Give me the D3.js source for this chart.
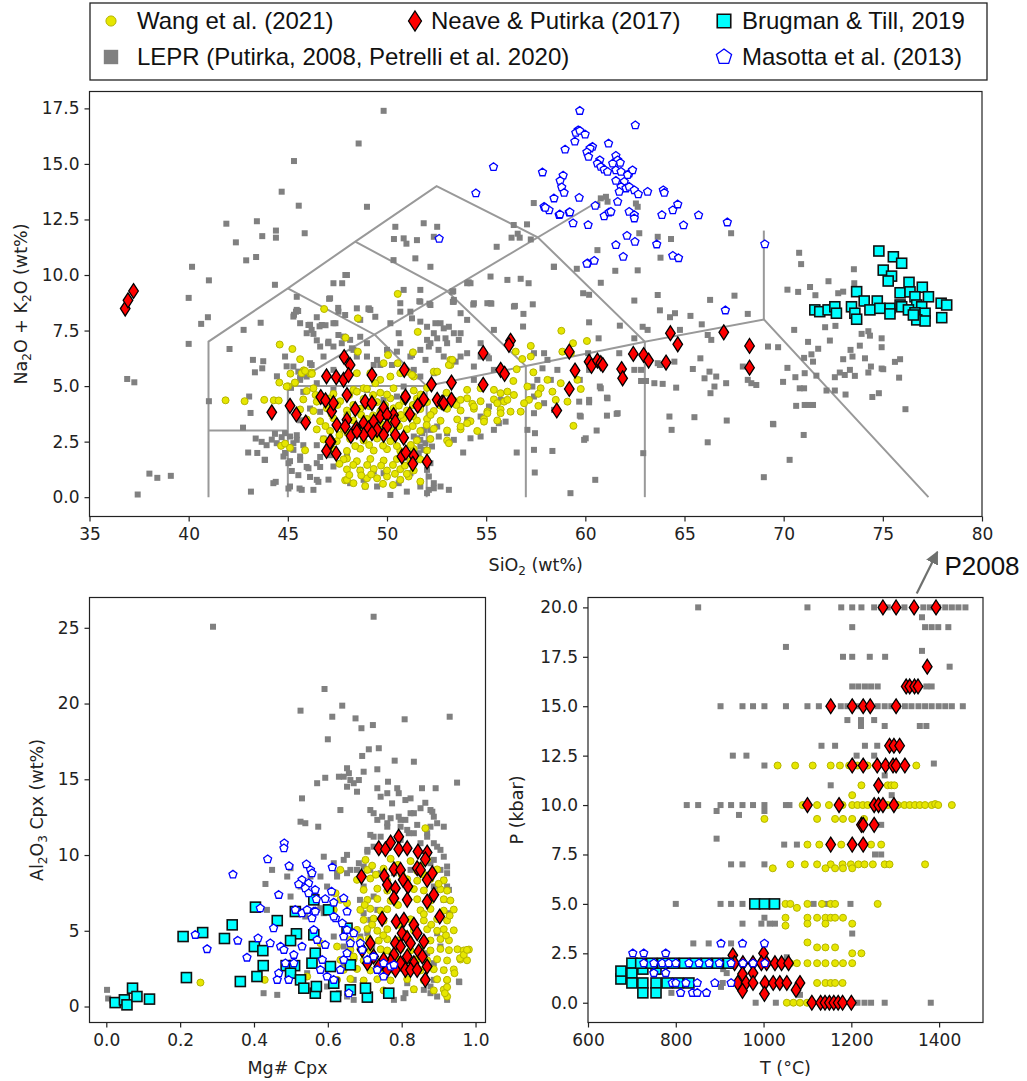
<!DOCTYPE html>
<html><head><meta charset="utf-8">
<script src="https://cdn.jsdelivr.net/npm/d3@7"></script>
<style>body{margin:0;background:#fff}svg{display:block}</style>
</head><body><svg id="c" width="1027" height="1081"></svg>
<script>
// ---------------- DATA ----------------
const legendLabels = ["Wang et al. (2021)","Neave & Putirka (2017)","Brugman & Till, 2019","LEPR (Putirka, 2008, Petrelli et al. 2020)","Masotta et al. (2013)"];
const tasXTicks = [35,40,45,50,55,60,65,70,75,80];
const tasYTicks = [0,2.5,5,7.5,10,12.5,15,17.5];
const blXTicks = [0,0.2,0.4,0.6,0.8,1.0];
const blYTicks = [0,5,10,15,20,25];
const brXTicks = [600,800,1000,1200,1400];
const brYTicks = [0,2.5,5,7.5,10,12.5,15,17.5,20];

// TAS classification boundaries (SiO2, Na2O+K2O)
const tasLines = [
 [[41,0],[41,7],[45,9.4],[48.4,11.5],[52.5,14],[57.6,11.7],[63,7],[69,8],[77.3,0]],
 [[41,3],[45,3]],[[45,0],[45,5],[52,5],[57,5.9],[63,7]],[[45,5],[61,13.5]],
 [[45,9.4],[49.4,7.3],[52,5],[52,0]],[[48.4,11.5],[53,9.3],[57,5.9],[57,0]],
 [[63,7],[63,0]],[[69,8],[69,12]]
];

// ---- TAS panel ----
const tasLEPR = [[45.31,15.13],[44.69,13.75],[45.55,13.12],[41.9,12.31],[43.44,12.42],[43.71,11.75],[44.4,12.0],[44.4,11.68],[45.85,11.88],[42.38,11.47],[42.9,10.66],[43.4,10.81],[40.17,10.37],[41.02,9.76],[44.35,9.56],[40.0,8.97],[40.97,8.1],[40.63,7.8],[40.0,6.9],[36.9,5.32],[37.26,5.17],[41.02,4.32],[38.02,1.06],[38.42,0.87],[39.1,0.96],[37.43,0.12],[47.9,10.0],[47.74,9.63],[47.08,8.93],[47.54,8.52],[45.52,8.38],[45.31,8.21],[43.63,7.85],[42.77,7.53],[46.12,7.76],[46.6,7.69],[46.9,7.74],[47.4,7.83],[46.46,8.1],[46.29,7.35],[46.46,7.06],[47.03,6.93],[42.06,6.67],[43.24,6.18],[43.76,6.12],[43.71,5.8],[43.34,5.62],[44.94,5.89],[44.45,5.44],[45.62,5.37],[45.16,4.92],[43.12,3.79],[43.05,4.53],[42.74,3.13],[43.38,2.64],[43.68,2.49],[43.93,2.34],[44.19,2.59],[43.46,1.99],[43.83,1.68],[44.39,0.69],[43.14,0.25],[44.86,1.99],[45.11,1.62],[45.2,1.18],[45.03,0.39],[45.59,0.39],[45.53,0.99],[46.12,0.91],[46.54,0.69],[47.05,0.79],[45.95,1.36],[46.63,1.36],[44.35,2.85],[44.69,2.7],[45.45,2.79],[45.78,2.34],[46.46,2.34],[46.8,2.64],[47.13,1.89],[46.63,1.81],[45.78,4.74],[45.45,3.84],[45.62,3.46],[46.12,3.99],[46.63,3.84],
[43.0,2.01],[43.85,1.68],[44.44,2.43],[44.27,0.63],[45.28,2.43],[45.62,1.83],[46.46,1.53],[47.3,1.38],[47.98,1.83],[48.65,1.23],[48.9,0.48],[49.5,0.48],[49.83,1.08],[50.67,0.78],[51.18,1.08],[51.6,1.98],[51.68,2.58],[51.85,2.13],[51.35,2.73],[52.02,0.18],[52.36,0.4],[52.7,0.48],[53.12,0.33],[51.0,0.25],[50.17,0.1],[51.77,2.88],[51.94,2.43],[52.19,3.03],[51.35,3.63],
[47.3,5.73],[47.98,6.18],[48.31,6.63],[48.99,6.93],[49.5,6.18],[50.0,6.63],[50.67,6.93],[51.18,6.33],[51.68,6.63],[52.19,6.93],[52.36,7.38],[52.7,7.83],[53.03,6.93],[53.71,7.38],[52.86,6.33],[52.36,5.58],[51.68,5.43],[50.84,4.98],[50.5,4.53],[49.83,4.38],[48.99,4.83],[47.3,4.83],[46.46,5.13],[45.62,5.28],[45.28,5.88],[46.12,6.03],[46.63,6.78],[46.2,7.53],[45.62,7.83],[45.28,8.13],[45.45,8.43],[47.3,7.83],[47.81,7.23],[48.65,7.98],[49.16,8.43],[50.17,7.83],[50.67,8.73],[51.18,8.35],[51.68,8.8],[52.19,8.65],[50.84,9.33],[51.68,9.33],[53.29,9.25],[53.37,8.8],[53.71,8.28],[54.21,9.63],[55.06,8.73],[55.22,9.93],[56.07,9.78],[56.4,8.58],[55.39,7.53],[54.72,6.93],[54.04,6.48],[54.38,5.88],[55.06,6.33],[47.3,9.63],[47.98,10.0],[49.08,8.5],[50.42,12.17],[50.84,11.65],[51.51,11.57],[51.85,12.33],[52.53,12.17],[52.19,10.37],[50.33,10.67],[51.43,10.75],[48.99,13.07],[48.57,15.92],[49.83,17.39],[52.36,11.72],[54.04,9.63],
[57.4,13.24],[56.39,12.25],[57.06,12.28],[56.59,11.86],[56.28,11.68],[56.69,11.68],[57.25,11.6],[55.53,11.27],[58.41,10.37],[59.57,10.28],[54.12,9.67],[56.74,9.83],[57.14,9.63],[53.34,9.27],[59.89,9.18],[60.19,9.11],[51.63,8.82],[52.14,8.71],[53.32,8.79],[54.35,8.67],[55.26,8.71],[56.45,8.61],[57.35,8.68],[50.35,11.62],[50.98,11.41],
[60.78,9.65],[62.47,8.85],[63.65,9.1],[66.29,8.88],[67.52,9.07],[56.88,8.25],[60.19,7.87],[61.74,7.72],[63.76,8.41],[64.52,8.28],[64.27,8.1],[65.3,8.16],[65.87,7.78],[68.19,8.25],[56.86,7.68],[60.67,7.15],[62.47,7.15],[61.71,6.48],[64.77,7.53],[66.17,7.3],[66.35,7.08],[65.8,6.25],[65.42,5.77],[66.26,5.65],[66.01,5.35],[66.51,4.98],[66.31,4.68],[67.1,5.13],[66.6,5.43],[67.94,5.88],[68.19,5.28],[68.37,5.13],[68.62,5.05],[69.21,6.78],[69.72,6.75],[69.46,3.3],[62.81,5.23],[63.06,5.23],[63.48,5.13],[63.9,5.1],[64.58,4.93],[64.24,3.63],[65.5,3.6],[64.35,3.03],[66.17,2.47],[67.13,3.45],[69.0,0.9],[62.92,1.98],[60.5,0.78],[59.25,0.18],[59.94,2.58],[60.57,3.0],[59.72,3.67],[61.09,3.67],[61.58,3.75],[61.09,4.48],[60.73,4.98],[60.19,4.38],[60.14,6.48],[60.19,5.73],[59.72,5.28],[58.34,2.08],[57.45,1.11],[57.46,2.88],[56.54,2.01],[55.98,3.4],
[70.78,11.0],[70.88,10.49],[70.19,9.34],[70.73,9.24],[71.33,9.46],[72.26,9.72],[73.54,10.26],[73.56,9.63],[72.75,9.18],[73.0,9.25],[71.6,9.09],[70.53,7.53],[72.09,7.65],[72.61,7.71],[71.23,6.99],[71.74,6.68],[72.33,7.05],[73.93,7.35],[74.27,7.47],[74.35,7.27],[74.94,7.15],[74.94,6.75],[73.37,6.63],[73.84,6.82],[73.0,6.21],[73.47,6.33],[74.1,6.25],[74.4,5.88],[74.94,5.79],[73.34,5.73],[72.83,5.61],[73.08,5.5],[72.58,5.4],[73.59,5.46],[74.27,5.61],[75.61,6.09],[75.87,6.21],[75.02,5.76],[75.82,5.38],[71.03,6.27],[71.48,6.1],[71.4,6.43],[70.59,5.4],[71.06,5.58],[71.65,5.47],[70.19,5.82],[69.97,5.19],[70.81,4.9],[71.03,4.9],[72.16,4.8],[72.58,4.8],[73.12,4.62],[71.06,4.15],[71.23,4.15],[71.48,4.15],[70.63,4.11],[74.47,4.51],[74.8,4.68],[76.14,3.96],[69.48,3.28],[71.01,2.8],[70.3,1.68],
[60.78,13.45],[61.04,13.52],[61.12,13.3],[60.61,13.15],[62.55,13.22],[62.64,13.07],[67.35,11.88],[62.72,11.88],[63.65,11.72],[64.32,11.62],[60.61,11.12],[63.79,10.78],[61.51,10.19],[62.64,10.21],[58.42,10.37],
[45.45,9.02],[47.13,8.95],[45.41,8.35],[47.55,8.35],[47.89,8.2],[48.48,8.5],[49.07,8.46],[49.41,8.12],[46.04,7.75],[46.71,7.75],[45.95,7.38],[47.05,7.0],[47.55,7.3],[48.14,7.08],[48.65,7.22],[50.67,8.35],[50.59,7.38],[51.26,8.05],[51.68,7.9],[52.02,7.67],[52.44,7.83],[52.86,7.6],[53.12,7.67],[53.37,7.38],[52.95,7.15],[52.53,7.15],[52.02,7.08],[52.11,6.78],[52.6,6.63],[53.62,7.08],[53.71,6.33],[53.46,6.1],[54.04,7.98],[54.38,8.73],[55.22,8.73],[53.37,8.88],[54.72,6.33],[55.14,6.25],[55.39,5.73],[54.38,5.28],[44.86,6.33],[45.53,5.65],[45.95,5.43],[46.2,5.95],[46.8,6.33],[47.3,6.78],[47.72,6.93],[48.23,6.7],[48.48,6.33],[48.99,6.33],[49.33,5.95],[49.66,5.95],[50.25,5.95],[50.5,6.55],[51.26,6.4],[51.94,6.18],[51.35,5.73],[51.85,3.03],[52.27,2.28],[51.68,2.28],[51.51,2.65],[52.53,3.18],[53.03,2.88],[52.61,2.73],[53.37,2.58],[53.84,2.01],[54.21,2.65],[54.72,2.73],[55.39,3.03],[55.64,3.33],[54.04,3.48],[54.72,3.63],[55.14,4.08],[55.73,4.38],[44.86,2.88],[45.11,2.73],[45.45,2.58],[45.28,2.13],[44.78,1.83],[45.03,1.53],[45.62,1.68],[46.04,1.3],[46.46,0.78],[45.7,0.33],[45.11,0.48],[46.29,0.33],[48.14,0.63],[48.82,0.78],[49.33,1.15],[50.59,0.63],[51.68,0.48],[52.11,0.33],[52.19,1.53],[52.02,1.23],[52.11,0.93],[52.36,0.63],
[57.41,6.48],[57.92,6.48],[58.09,6.18],[58.59,5.73],[58.26,5.28],[57.84,5.8],[57.58,5.28],[57.33,4.98],[57.41,4.53],[57.92,4.23],[58.42,3.93],[57.41,3.78],[57.08,3.03],[57.41,2.13],[59.77,3.63],[60.02,2.65],[60.78,4.9],[61.12,4.45],[61.63,3.78],[60.19,4.27],[59.69,4.3],[63.76,5.95],[64.1,6.03],[64.49,6.1],[62.81,5.73],[62.47,5.73],[63.65,6.03],[62.89,7.67],[63.14,7.53]];

const tasWang = [[46.83,8.47],[47.91,7.18],[44.59,6.87],[45.23,6.67],[45.62,6.21],[45.13,5.56],[44.57,5.16],[45.01,4.99],[45.35,5.14],[45.8,5.71],[46.14,5.56],[41.86,4.36],[42.82,4.32],[43.81,4.38],[44.29,4.36],[44.54,4.35],[44.66,2.31],[44.86,2.41],[45.11,2.22],[45.87,2.11],[47.89,0.76],[47.98,1.74],[48.53,8.05],[50.54,9.15],[48.53,6.55],[51.55,7.44],[50.05,6.4],[51.31,6.52],[50.54,6.03],[49.83,6.03],[45.7,5.58],[46.2,5.61],[50.67,5.58],[51.35,5.43],[52.36,5.65],[53.2,6.18],[53.2,5.95],[48.31,0.63],[47.98,0.78],[48.99,0.85],[49.5,0.85],[50.0,0.93],[50.67,0.78],[51.09,0.93],[51.68,0.7],[45.87,5.68],[46.21,5.55],[44.94,4.98],[45.36,5.16],[51.01,5.65],[51.26,5.5],[50.17,5.43],[49.66,5.28],[49.16,5.58],[48.48,5.58],[52.53,5.65],[53.12,5.95],[53.29,6.18],[49.41,5.13],[48.82,4.9],[48.31,4.83],
[45.95,4.78],[46.29,4.9],[48.48,4.75],[48.99,4.88],[49.66,4.7],[50.33,4.9],[51.35,4.8],[52.02,4.92],
[45.78,4.4],[46.46,4.3],[47.13,4.45],[47.64,4.32],[48.82,4.42],[49.5,4.28],[50.17,4.45],[50.84,4.33],[51.51,4.44],[52.02,4.28],[52.53,4.45],[53.37,4.35],[54.04,4.45],[54.72,4.32],[55.39,4.4],[55.9,4.3],
[45.62,3.95],[46.29,3.88],[46.97,4.0],[47.98,3.9],[48.65,3.98],[49.66,3.86],[50.33,4.0],[51.01,3.9],[51.68,3.97],[52.36,3.88],[53.03,3.98],[53.71,3.9],[54.38,3.98],[55.06,3.86],[55.73,3.95],
[45.95,3.5],[46.63,3.42],[47.3,3.55],[48.31,3.45],[48.99,3.52],[50.17,3.43],[50.84,3.55],[51.51,3.45],[52.02,3.52],[52.7,3.44],[53.54,3.5],[54.21,3.42],[54.89,3.52],[55.56,3.45],
[46.46,3.05],[47.13,2.98],[47.81,3.08],[48.65,3.0],[49.5,3.1],[50.33,2.98],[51.01,3.06],[51.68,2.98],[52.36,3.08],[53.03,3.0],[53.71,3.06],[54.55,2.98],
[46.8,2.6],[47.47,2.52],[48.14,2.62],[48.82,2.55],[49.5,2.64],[50.17,2.52],[50.84,2.6],[51.51,2.55],[52.19,2.62],[53.03,2.55],
[47.3,2.15],[47.98,2.08],[48.65,2.18],[49.33,2.1],[50.0,2.16],[50.67,2.08],[51.35,2.17],[52.02,2.1],
[47.81,1.7],[48.48,1.62],[49.16,1.72],[49.83,1.65],[50.5,1.72],[51.18,1.63],[51.68,1.7],
[47.98,1.25],[48.65,1.2],[49.33,1.27],[50.0,1.2],[50.67,1.26],[51.35,1.2],
[48.3,1.45],[49.0,1.45],[49.7,1.42],[50.3,1.45],[50.9,1.42],[48.1,1.0],[48.7,0.98],[49.2,1.02],[49.8,0.6],[50.4,1.05],[51.0,1.05],[50.3,0.55],[48.9,0.5],[47.6,1.5],[47.6,2.8],[48.4,2.3],[49.1,2.35],[49.8,2.32],[50.5,2.3],[51.2,2.35],[48.0,2.9],[48.9,3.25],[49.8,3.25],[50.6,3.2],[51.3,3.2],[52.0,3.25],[48.0,3.7],[48.7,3.7],[49.3,3.68],[50.0,3.6],[50.7,3.7],[51.3,3.65],[52.2,3.7],[47.2,3.75],[46.9,3.2],[47.5,4.15],[48.3,4.15],[49.1,4.1],[49.9,4.15],[50.6,4.12],[51.3,4.15],[52.7,4.12],[53.5,4.15],[54.3,4.2],[46.4,4.6],[47.3,4.65],[48.1,4.6],[49.3,4.6],[50.0,4.62],[50.9,4.6],[51.7,4.62],[53.0,4.7],
[53.71,4.38],[54.04,4.83],[54.72,4.9],[55.39,4.83],[55.73,4.68],[54.38,4.08],[55.06,3.78],[55.56,4.23],[56.07,4.38],[54.04,3.33],[54.89,3.4],[53.71,3.18],[53.12,2.43],[55.73,3.78],
[58.79,7.49],[59.38,6.93],[60.08,7.03],[57.25,6.81],[57.25,6.33],[56.49,6.55],[56.82,6.22],[59.27,6.48],[58.84,6.55],[56.54,5.76],[57.38,5.62],[56.37,5.23],[57.08,4.98],[58.09,5.28],[58.76,5.13],[59.6,5.28],[59.77,4.87],[59.1,4.3],[58.34,4.75],[57.75,4.9],[57.63,4.65],[57.16,4.38],[56.91,4.23],[56.4,4.6],[56.07,4.75],[56.23,3.85],[56.74,3.85],[57.63,4.11],[58.51,4.38],[59.4,3.21]];

const tasNeave = [[36.8,8.49],[36.94,8.86],[37.22,9.28],[44.19,3.82],[45.11,4.11],[45.43,3.72],[45.9,3.36],[46.95,5.44],[47.44,5.4],[47.84,6.31],[46.66,4.51],[46.9,4.36],[47.21,3.87],[46.95,2.08],[47.44,1.96],[47.18,2.49],[48.14,5.95],[47.81,5.28],[48.06,5.5],[49.24,5.5],[50.87,5.73],[47.98,4.6],[47.3,4.23],[48.4,3.96],[48.9,4.3],[49.24,4.23],[49.83,4.0],[50.33,3.7],[50.93,4.48],[51.15,3.73],[51.55,4.12],[51.85,4.41],[52.24,5.08],[53.25,5.16],[54.85,5.06],[54.85,6.49],[52.53,4.38],[52.78,4.26],[53.25,4.38],[47.47,3.25],[47.98,3.48],[48.45,3.1],[48.18,2.76],[48.82,3.33],[49.07,3.1],[49.33,3.4],[49.66,3.63],[50.0,3.7],[49.5,3.03],[50.0,3.18],[50.42,3.4],[50.42,2.8],[49.83,2.8],[49.24,2.88],[48.82,2.8],[48.48,2.95],[47.89,3.18],[50.84,2.68],[47.13,2.5],[50.75,1.83],[50.95,2.01],[51.35,1.86],[51.3,1.5],[52.02,1.6],[56.23,7.04],[56.15,6.85],[55.73,5.73],[55.93,5.55],[59.19,6.55],[59.48,5.7],[59.19,4.87],[58.56,3.9],[60.19,6.1],[60.31,5.91],[60.61,6.15],[60.78,6.03],[60.88,5.95],[61.83,5.77],[61.88,5.35],[62.42,6.45],[62.94,6.4],[63.19,6.15],[64.07,6.06],[64.29,7.38],[64.66,6.88],[66.98,7.42],[68.28,6.81],[68.28,5.83],[52.86,4.23],[50.93,4.53]];

const tasBrugman = [[74.8,11.08],[75.53,10.82],[75.95,10.53],[75.02,10.22],[75.44,9.95],[75.27,9.73],[76.32,9.67],[76.99,9.45],[75.87,9.2],[76.37,9.24],[76.62,9.02],[77.3,9.02],[73.68,9.25],[74.06,8.83],[74.72,8.83],[75.36,8.5],[75.87,8.65],[76.71,8.65],[76.96,8.57],[77.94,8.73],[78.22,8.65],[71.57,8.43],[71.82,8.35],[72.24,8.43],[72.58,8.57],[72.66,8.28],[73.42,8.57],[73.59,8.28],[73.68,8.01],[74.35,8.43],[74.85,8.5],[75.36,8.25],[75.95,8.57],[76.29,8.43],[76.62,8.3],[77.13,8.28],[76.71,7.98],[77.13,7.93],[77.97,8.08],[76.54,8.2]];

const tasMasotta = [[59.72,17.39],[62.52,16.74],[59.64,16.52],[59.52,16.4],[59.72,16.49],[59.99,16.33],[59.47,16.01],[61.17,15.92],[58.98,15.65],[60.36,15.77],[60.24,15.7],[60.08,15.53],[60.16,15.32],[60.73,15.17],[60.61,15.02],[60.78,14.87],[60.95,14.75],[61.12,14.65],[61.54,15.37],[61.63,15.17],[61.76,15.05],[61.38,15.02],[61.54,14.72],[61.8,14.65],[62.21,14.57],[62.38,14.72],[62.13,14.5],[57.84,14.62],[58.88,14.48],[58.73,14.24],[58.81,13.95],[58.93,13.7],[61.54,14.24],[61.96,14.2],[61.8,13.97],[62.05,13.9],[62.21,13.97],[62.47,13.82],[62.67,13.64],[61.71,13.75],[61.63,13.3],[63.14,13.75],[63.93,13.82],[63.98,13.7],[58.42,13.45],[59.69,13.48],[57.92,13.07],[58.17,12.92],[58.68,12.7],[59.19,12.82],[59.38,12.33],[60.14,12.25],[60.5,13.12],[60.95,12.65],[61.2,12.82],[61.29,12.85],[62.21,12.85],[62.47,12.7],[62.47,12.55],[63.86,12.7],[64.41,12.92],[64.66,13.18],[64.95,12.24],[65.71,12.69],[67.16,12.37],[62.1,11.77],[62.5,11.5],[61.54,11.35],[61.91,10.82],[63.6,11.38],[64.41,10.87],[64.7,10.76],[60.11,10.53],[60.45,10.64],[69.05,11.39],[67.06,8.41],[55.37,14.86],[54.48,13.68],[52.63,11.63],[57.98,13.03],[58.72,12.73],[59.22,12.83],[60.08,10.51]];

// ---- Mg# vs Al2O3 panel ----
const blLEPR = [[0.289,25.07],[0.724,25.73],[0.591,20.96],[0.639,19.86],[0.526,19.53],[0.612,19.13],[0.675,19.02],[0.691,18.37],[0.722,18.58],[0.808,18.96],[0.93,19.13],[0.6,17.64],[0.693,16.54],[0.711,16.98],[0.738,17.05],[0.781,16.23],[0.833,16.16],[0.652,15.73],[0.657,15.4],[0.643,15.17],[0.63,15.17],[0.661,14.95],[0.67,14.74],[0.652,14.51],[0.684,14.95],[0.697,15.5],[0.734,15.66],[0.679,14.18],[0.593,15.1],[0.571,14.74],[0.95,14.78],[0.763,14.84],[0.734,14.41],[0.761,14.08],[0.788,14.41],[0.792,14.08],[0.81,13.63],[0.824,13.74],[0.774,13.41],[0.743,13.85],[0.715,12.97],[0.855,14.41],[0.892,14.41],[0.53,13.74],[0.634,12.97],[0.526,12.2],[0.539,12.1],[0.574,11.87],[0.864,13.45],[0.883,12.86],[0.896,12.1],[0.724,12.76],[0.734,12.32],[0.747,12.53],[0.77,12.43],[0.792,12.53],[0.81,12.32],[0.833,12.76],[0.761,11.87],[0.797,11.87],[0.842,11.99],[0.869,11.44],[0.819,11.44],[0.715,11.33],[0.743,11.21],[0.797,11.0],[0.851,10.78],[0.887,10.78],[0.905,10.34],[0.914,9.89],[0.887,9.68],[0.724,10.55],[0.707,10.22],[0.652,10.01],[0.616,9.46],[0.589,9.89],[0.625,8.8],[0.652,8.8],[0.679,9.02],[0.697,9.24],[0.499,9.13],[0.49,8.58],[0.553,8.58],[0.58,8.58],[0.598,7.92],[0.616,7.48],[0.526,7.92],[0.499,7.26],[0.562,7.04],[0.58,6.49],[0.539,5.94],[0.449,9.02],[0.431,8.09],[0.435,6.38],[0.878,9.46],[0.905,9.02],[0.923,8.8],[0.914,8.36],[0.887,7.92],[0.923,7.92],[0.914,7.04],[0.928,6.16],[0.896,4.84],[0.905,3.96],[0.869,3.52],[0.887,2.86],[0.914,2.42],[0.887,1.76],[0.878,0.88],[0.896,0.66],[0.86,1.1],[0.956,1.61],[0.697,7.92],[0.687,7.04],[0.697,6.16],[0.707,4.84],[0.72,3.96],[0.715,9.02],[0.743,8.8],[0.779,8.8],[0.824,9.02],[0.851,8.8],[0.002,1.1],[0.005,0.53],[0.016,0.4],[0.426,0.88],[0.463,0.77],[0.67,0.44],[0.652,0.66],[0.779,0.44],[0.81,0.88],[0.805,0.55],[0.643,2.86],[0.616,1.76],[0.598,1.32],[0.63,0.88],[0.661,1.1],[0.67,1.76],[0.58,2.42],[0.544,2.2],[0.571,6.38],[0.589,6.16],[0.616,4.62],[0.643,3.96],[0.661,3.96],[0.761,12.1],[0.797,12.32],[0.824,12.76],[0.851,13.09],[0.878,12.97],[0.887,12.53],[0.914,11.87],[0.833,11.44],[0.869,11.21],[0.896,10.55],[0.923,9.24],[0.928,7.7],[0.878,11.87],[0.815,11.66],[0.724,11.21],[0.707,10.34],[0.684,9.46],[0.661,9.02],[0.643,9.68],[0.625,8.58],[0.724,7.26],[0.734,6.38],[0.715,5.72],[0.707,5.06],[0.688,4.62],[0.815,1.54],[0.833,1.1],[0.878,1.32],[0.923,0.44],[0.955,1.65]];

const blWang = [[0.864,11.77],[0.702,9.68],[0.77,9.75],[0.824,9.6],[0.869,9.7],[0.707,9.02],[0.751,9.1],[0.842,8.95],[0.896,9.05],[0.679,8.36],[0.715,8.45],[0.761,8.3],[0.815,8.4],[0.842,8.3],[0.878,8.42],[0.914,8.33],[0.697,7.7],[0.734,7.78],[0.761,7.65],[0.833,7.75],[0.86,7.66],[0.905,7.74],[0.923,7.65],[0.707,7.04],[0.734,7.1],[0.77,6.98],[0.842,7.08],[0.878,6.98],[0.914,7.08],[0.932,7.0],[0.688,6.38],[0.715,6.45],[0.743,6.33],[0.761,6.42],[0.851,6.35],[0.878,6.44],[0.914,6.33],[0.941,6.4],[0.697,5.72],[0.724,5.8],[0.751,5.66],[0.824,5.76],[0.86,5.68],[0.896,5.78],[0.923,5.68],[0.679,5.06],[0.707,5.12],[0.734,5.0],[0.761,5.1],[0.833,5.02],[0.869,5.1],[0.896,5.0],[0.914,5.1],[0.941,5.03],[0.688,4.4],[0.711,4.46],[0.738,4.35],[0.761,4.44],[0.788,4.36],[0.815,4.45],[0.878,4.36],[0.905,4.45],[0.928,4.37],[0.661,3.74],[0.688,3.8],[0.715,3.7],[0.743,3.78],[0.761,3.7],[0.797,3.8],[0.824,3.7],[0.851,3.78],[0.878,3.7],[0.905,3.8],[0.928,3.72],[0.951,3.78],[0.968,3.7],[0.982,3.76],[0.634,3.08],[0.67,3.14],[0.697,3.04],[0.724,3.12],[0.751,3.03],[0.788,3.12],[0.815,3.04],[0.842,3.12],[0.869,3.05],[0.896,3.12],[0.923,3.04],[0.959,3.1],[0.977,3.05],[0.643,2.42],[0.679,2.48],[0.715,2.38],[0.751,2.47],[0.779,2.4],[0.815,2.46],[0.851,2.38],[0.887,2.46],[0.914,2.4],[0.941,2.45],[0.625,1.76],[0.661,1.82],[0.697,1.72],[0.734,1.8],[0.77,1.72],[0.815,1.8],[0.86,1.73],[0.896,1.8],[0.923,1.74],[0.661,1.1],[0.707,1.15],[0.751,1.06],[0.833,1.14],[0.887,1.06],[0.914,1.12],[0.923,0.66],[0.634,9.02],[0.621,7.48],[0.634,7.04],[0.652,6.82],[0.616,6.38],[0.58,4.18],[0.562,2.86],[0.544,1.98],[0.625,3.96],[0.67,3.3],[0.661,4.4],[0.429,1.76],[0.255,1.58],[0.958,3.19],[0.968,3.41],[0.977,3.74],[0.943,2.2],[0.923,1.76],[0.923,1.28],[0.917,0.88],[0.72,9.3],[0.79,9.35],[0.85,9.3],[0.73,8.7],[0.8,8.7],[0.86,8.7],[0.9,8.1],[0.7,6.7],[0.79,6.7],[0.86,6.1],[0.93,6.0],[0.72,5.4],[0.79,5.4],[0.88,5.4],[0.75,4.7],[0.81,4.8],[0.92,4.7]];

const blNeave = [[0.792,11.21],[0.738,10.45],[0.756,10.38],[0.77,10.82],[0.792,10.38],[0.815,10.45],[0.844,10.23],[0.869,10.16],[0.864,9.72],[0.842,9.13],[0.691,8.58],[0.753,8.62],[0.779,9.06],[0.797,9.02],[0.761,8.03],[0.783,7.81],[0.804,8.36],[0.817,7.92],[0.815,7.04],[0.779,7.15],[0.851,9.02],[0.869,8.36],[0.883,8.8],[0.869,6.93],[0.887,7.37],[0.903,5.94],[0.747,5.79],[0.785,5.61],[0.806,5.72],[0.833,5.39],[0.783,4.18],[0.801,4.84],[0.815,4.51],[0.842,4.84],[0.86,4.29],[0.779,3.41],[0.797,3.96],[0.824,4.18],[0.846,3.63],[0.856,3.3],[0.833,2.86],[0.815,3.3],[0.797,2.86],[0.783,2.42],[0.81,2.42],[0.824,2.42],[0.842,2.42],[0.77,2.97],[0.751,3.08],[0.738,2.64],[0.761,2.42],[0.724,3.3],[0.869,2.64],[0.864,1.76],[0.707,2.86],[0.693,3.74],[0.715,4.18]];

const blBrugman = [[0.024,0.26],[0.049,0.44],[0.056,0.11],[0.071,1.21],[0.083,0.66],[0.117,0.49],[0.208,4.62],[0.261,4.88],[0.217,1.91],[0.32,4.49],[0.341,5.39],[0.363,1.65],[0.404,6.56],[0.401,3.96],[0.424,3.69],[0.408,1.98],[0.425,2.7],[0.463,5.67],[0.512,6.27],[0.515,4.8],[0.499,4.35],[0.487,2.7],[0.51,2.7],[0.499,2.2],[0.526,1.76],[0.535,1.21],[0.557,2.86],[0.566,0.88],[0.562,7.04],[0.562,4.73],[0.566,3.52],[0.602,6.38],[0.607,2.64],[0.621,0.66],[0.652,5.17],[0.661,1.1],[0.707,0.62],[0.702,1.21],[0.765,0.88],[0.661,2.75],[0.569,1.32],[0.616,1.54]];

const blMasotta = [[0.482,10.78],[0.481,10.45],[0.437,9.72],[0.343,8.71],[0.495,9.28],[0.542,9.39],[0.553,9.02],[0.557,8.8],[0.548,8.14],[0.53,8.36],[0.521,8.07],[0.612,9.19],[0.467,7.37],[0.539,7.81],[0.548,7.48],[0.566,7.7],[0.569,7.08],[0.562,6.27],[0.61,7.59],[0.593,7.1],[0.616,6.86],[0.621,5.83],[0.652,6.27],[0.643,7.15],[0.417,6.49],[0.512,6.38],[0.53,6.16],[0.544,6.38],[0.557,5.83],[0.566,6.27],[0.453,5.17],[0.411,4.51],[0.381,3.23],[0.356,4.35],[0.273,3.79],[0.241,4.73],[0.444,4.18],[0.472,3.96],[0.481,3.74],[0.508,3.41],[0.485,2.86],[0.467,2.2],[0.463,1.76],[0.494,1.76],[0.508,2.86],[0.53,3.96],[0.562,5.06],[0.571,4.4],[0.593,4.07],[0.585,3.08],[0.58,2.42],[0.598,1.98],[0.616,1.76],[0.634,2.42],[0.643,3.08],[0.652,3.52],[0.661,4.18],[0.643,4.62],[0.67,4.84],[0.652,5.06],[0.639,5.5],[0.616,5.94],[0.657,0.88],[0.688,4.18],[0.693,3.74],[0.707,3.08],[0.724,3.3],[0.751,2.86],[0.77,2.64],[0.751,1.98],[0.734,2.42],[0.779,2.75]];

// ---- T vs P panel ----
const brLEPR = [[851,20],[1100,20],[1177,20],[1202,20],[1223,20],[1252,20],[1268,20],[1283,20],[1321,20],[1341,20],[1364,20],[1379,20],[1398,20],[1414,20],[1429,20],[1444,20],[1460,20],[1202,19],[1368,19],[1383,19],[1398,19],[1421,19],[1361,19.5],[1051,18],[1361,17.8],[1181,17.5],[1202,17.5],[1242,17.5],[1277,17.5],[1424,17],[1202,16],[1216,16],[1231,16],[1245,16],[1260,16],[1371,16],[1383,16],[902,15],[952,15],[976,15],[1002,15],[1051,15],[1100,15],[1126,15],[1176,15],[1191,15],[1214,15],[1260,15],[1276,15],[1291,15],[1306,15],[1322,15],[1337,15],[1353,15],[1368,15],[1383,15],[1399,15],[1414,15],[1429,15],[1454,15],[1191,14.3],[1222,14.3],[1252,14.3],[1222,14],[1276,14],[1356,14],[1371,14],[1132,13],[1163,13],[1231,13],[1259,13],[930,12.5],[961,12.5],[1212,12.5],[1252,12.5],[1002,12],[1388,12.1],[1276,11.5],[1153,11],[1292,10.5],[825,10],[851,10],[902,10],[926,10],[952,10],[976,10],[1002,10],[1051,10],[1059,10],[893,9.7],[1002,9.7],[944,9.5],[1268,9],[893,8.3],[1047,8],[1076,8],[1254,7.5],[1268,7.5],[926,7],[952,7],[1002,7],[800,5],[902,5],[926,5],[952,5],[1002,5],[1114,5],[1145,5],[1198,5],[1002,4.3],[952,4],[995,4],[1014,4],[1026,4],[1202,3.5],[840,3],[875,3],[903,3],[926,3],[1053,2.3],[916,1.5],[908,1.7],[790,1],[818,1],[907,1],[930,1],[953,1],[903,0.8],[790,0.5],[982,0],[1028,0],[1214,0],[1230,0],[1245,0],[1276,0],[1381,0],[1083,0.4]];

const brWang = [[1032,12],[1072,12],[1112,12],[1153,12],[1174,12],[1195,12],[1214,12],[1237,12],[1256,12],[1279,12],[1298,12],[1321,12],[1348,12],[1223,11],[1283,11],[1291,11],[1298,11],[1202,10.5],[1089,10],[1122,10],[1149,10],[1180,10],[1202,10],[1214,10],[1226,10],[1237,10],[1252,10],[1272,10],[1283,10],[1306,10],[1321,10],[1333,10],[1345,10],[1356,10],[1368,10],[1383,10],[1391,10.05],[1398,10],[1429,10],[1002,9.3],[1122,9.3],[1163,9.3],[1181,9.3],[1202,9.3],[1229,9.3],[1100,8],[1127,8],[1177,8],[1245,8],[1268,8],[1061,7],[1094,7],[1122,7],[1153,7],[1180,7],[1199,7],[1216,7],[1230,7],[1249,7],[1276,7],[1287,7],[1368,7],[1021,6.8],[1141,6.8],[1163,6.8],[1181,6.8],[1202,6.8],[982,5],[1050,5],[1061,5],[1100,5],[1133,5],[1153,5],[1163,5],[1260,5],[1076,4.8],[1050,4.3],[1100,4.3],[1122,4.3],[1141,4.3],[1153,4.3],[1163,4.3],[1181,4.3],[1050,3.9],[1100,4],[1141,4],[1202,4],[1100,3.05],[1122,2.8],[1141,2.8],[1163,2.8],[1202,2.5],[1223,2.5],[1061,2],[1076,2],[1100,2],[1122,2],[1141,2],[1163,2],[1181,2],[1202,2],[1122,1],[1141,1],[1153,1],[1163,1],[1180,1],[1053,0],[1068,0],[1083,0],[1099,0]];

const brNeave = [[1272,20],[1302,20],[1343,20],[1393,20],[1373,17],[1325,16],[1333,16],[1344,16],[1352,16],[1153,15],[1202,15],[1227,15],[1243,15],[1302,15],[1287,13],[1297,13],[1310,13],[1202,12],[1227,12],[1259,12],[1278,12],[1295,12],[1302,12],[1322,12],[1262,11],[1100,10],[1172,10],[1252,10],[1262,10],[1272,10],[1297,10],[1223,9],[1227,9],[1252,9],[1153,8],[1202,8],[1227,8],[930,2.4],[1000,2.5],[934,2],[953,2],[976,2],[995,2],[1007,2],[1026,2],[1041,2],[1057,2],[952,1.45],[976,1.5],[941,1],[960,1],[976,1],[1003,1],[1022,1],[1037,1],[1053,1],[1083,1],[952,0.6],[1074,0.65],[1002,0.45],[1110,0],[1130,0],[1140,0],[1150,0],[1160,0],[1170,0],[1180,0],[1200,0]];

const brBrugman = [[675,1.2],[675,1.6],[700,2.0],[700,1.5],[700,1.0],[725,1.0],[755,1.0],[725,0.5],[755,0.5],[725,1.7],[755,1.7],[780,1.0],[805,1.0],[830,1.0],[720,2.0],[745,2.0],[770,2.0],[795,2.0],[820,2.0],[845,2.0],[870,2.0],[895,2.0],[920,2.0],[980,5.0],[1002,5.0],[1025,5.0]];

const brMasotta = [[903,3],[952,3],[1002,3],[702,2.5],[727,2.5],[777,2.5],[727,2],[750,2],[769,2],[784,2],[800,2],[830,2],[853,2],[876,2],[899,2],[926,2],[953,2],[976,2],[1003,2],[750,1.5],[777,1.5],[792,1],[800,1],[823,1],[849,1],[889,1],[926,1],[811,0.5],[838,0.5],[849,0.5],[870,0.5]];

// annotation (in T-P data units)
const annotArrow = {from:[1349,20.7], to:[1396,22.8], text:"P2008", textAt:[1412,21.65]};

// ---------------- DRAW ----------------
const svg = d3.select("#c");
svg.append("rect").attr("width",1027).attr("height",1081).attr("fill","#fff");
const AX = "#222";
const tickFont = "'DejaVu Sans', sans-serif";
const legFont = "'Liberation Sans', Arial, sans-serif";

function pentPath(r){const p=[];for(let k=0;k<5;k++){const a=-Math.PI/2+k*2*Math.PI/5;p.push([(r*Math.cos(a)).toFixed(2),(r*Math.sin(a)).toFixed(2)]);}return "M"+p.map(d=>d.join(",")).join("L")+"Z";}
function diamondPath(w,h){return `M0,${-h}L${w},0L0,${h}L${-w},0Z`;}

const styles = {
  gray:  g=>g.append("rect").attr("x",-3).attr("y",-3).attr("width",6).attr("height",6).attr("fill","#808080"),
  yellow:g=>g.append("circle").attr("r",3.5).attr("fill","#e6e600").attr("stroke","#b4b400").attr("stroke-width",1),
  red:   g=>g.append("path").attr("d",diamondPath(4.8,7.4)).attr("fill","#ff0000").attr("stroke","#000").attr("stroke-width",1.3),
  cyan:  g=>g.append("rect").attr("x",-5).attr("y",-5).attr("width",10).attr("height",10).attr("fill","#00ffff").attr("stroke","#111").attr("stroke-width",1.6),
  blue:  g=>g.append("path").attr("d",pentPath(4.2)).attr("fill","#fff").attr("stroke","#0000ff").attr("stroke-width",1.3)
};

function drawPts(layer,data,x,y,kind){
  const sel = layer.append("g").selectAll("g").data(data).join("g")
    .attr("transform",d=>`translate(${x(d[0]).toFixed(2)},${y(d[1]).toFixed(2)})`);
  sel.each(function(){styles[kind](d3.select(this));});
}

function addLabel(t,parts){
  let pendingUp = false;
  parts.forEach(p=>{
    if(typeof p==="string"){
      const s=t.append("tspan").text(p);
      if(pendingUp){s.attr("dy",-4);pendingUp=false;}
    } else {
      t.append("tspan").attr("font-size",12).attr("dy",4).text(p.sub);
      pendingUp = true;
    }
  });
}

function panel(cfg){
  const x = d3.scaleLinear().domain(cfg.xd).range([cfg.l,cfg.r]);
  const y = d3.scaleLinear().domain(cfg.yd).range([cfg.b,cfg.t]);
  const g = svg.append("g");
  if(cfg.pre) cfg.pre(g,x,y);
  drawPts(g,cfg.gray,x,y,"gray");
  drawPts(g,cfg.yellow,x,y,"yellow");
  drawPts(g,cfg.red,x,y,"red");
  drawPts(g,cfg.cyan,x,y,"cyan");
  drawPts(g,cfg.blue,x,y,"blue");
  const xa = g.append("g").attr("transform",`translate(0,${cfg.b})`)
     .call(d3.axisBottom(x).tickValues(cfg.xt).tickFormat(cfg.xf).tickSize(5).tickPadding(6));
  const ya = g.append("g").attr("transform",`translate(${cfg.l},0)`)
     .call(d3.axisLeft(y).tickValues(cfg.yt).tickFormat(cfg.yf).tickSize(5).tickPadding(5));
  [xa,ya].forEach(a=>{a.select(".domain").remove();
    a.selectAll("line").attr("stroke",AX).attr("stroke-width",1.2);
    a.selectAll("text").attr("font-family",tickFont).attr("font-size",17).attr("fill",AX);});
  g.append("rect").attr("x",cfg.l).attr("y",cfg.t).attr("width",cfg.r-cfg.l).attr("height",cfg.b-cfg.t)
   .attr("fill","none").attr("stroke",AX).attr("stroke-width",1.2);
  const xl = g.append("text").attr("x",(cfg.l+cfg.r)/2).attr("y",cfg.xly).attr("text-anchor","middle")
    .attr("font-family",tickFont).attr("font-size",17.5).attr("fill",AX);
  addLabel(xl,cfg.xlab);
  const yl = g.append("text").attr("transform",`translate(${cfg.ylx},${(cfg.t+cfg.b)/2}) rotate(-90)`).attr("text-anchor","middle")
    .attr("font-family",tickFont).attr("font-size",17.5).attr("fill",AX);
  addLabel(yl,cfg.ylab);
  return {x,y,g};
}

// TAS panel
panel({l:89.5,r:982,t:91.5,b:516.5,xd:[35,80],yd:[-0.87,18.26],
  xt:tasXTicks,yt:tasYTicks,xf:d3.format("d"),yf:d3.format(".1f"),
  gray:tasLEPR,yellow:tasWang,red:tasNeave,cyan:tasBrugman,blue:tasMasotta,
  xly:571,ylx:27,
  xlab:["SiO",{sub:"2"}," (wt%)"], ylab:["Na",{sub:"2"},"O + K",{sub:"2"},"O (wt%)"],
  pre:(g,x,y)=>{
    const line=d3.line().x(d=>x(d[0])).y(d=>y(d[1]));
    g.append("g").selectAll("path").data(tasLines).join("path").attr("d",line)
     .attr("fill","none").attr("stroke","#999").attr("stroke-width",2);
  }});

// Mg# panel
panel({l:89.5,r:485.5,t:597.5,b:1022.5,xd:[-0.0455,1.027],yd:[-1.055,27.0],
  xt:blXTicks,yt:blYTicks,xf:d3.format(".1f"),yf:d3.format("d"),
  gray:blLEPR,yellow:blWang,red:blNeave,cyan:blBrugman,blue:blMasotta,
  xly:1074,ylx:43,
  xlab:["Mg# Cpx"], ylab:["Al",{sub:"2"},"O",{sub:"3"}," Cpx (wt%)"]});

// T-P panel
const br = panel({l:588,r:983,t:597.5,b:1022.5,xd:[600,1500],yd:[-1,20.5],
  xt:brXTicks,yt:brYTicks,xf:d3.format("d"),yf:d3.format(".1f"),
  gray:brLEPR,yellow:brWang,red:brNeave,cyan:brBrugman,blue:brMasotta,
  xly:1074,ylx:523,
  xlab:["T (°C)"], ylab:["P (kbar)"]});

// annotation
const defs = svg.append("defs");
defs.append("marker").attr("id","ah").attr("viewBox","0 0 10 10").attr("refX",9).attr("refY",5)
  .attr("markerWidth",6).attr("markerHeight",6).attr("orient","auto").attr("markerUnits","strokeWidth")
  .append("path").attr("d","M0,0L10,5L0,10Z").attr("fill","#6e706e");
svg.append("line").attr("x1",br.x(annotArrow.from[0])).attr("y1",br.y(annotArrow.from[1]))
  .attr("x2",br.x(annotArrow.to[0])).attr("y2",br.y(annotArrow.to[1]))
  .attr("stroke","#6e706e").attr("stroke-width",2.2).attr("marker-end","url(#ah)");
svg.append("text").attr("x",br.x(annotArrow.textAt[0])).attr("y",br.y(annotArrow.textAt[1]))
  .attr("font-family",legFont).attr("font-size",26).attr("fill","#111").text(annotArrow.text);

// Legend
const lg = svg.append("g");
lg.append("rect").attr("x",90).attr("y",3).attr("width",897).attr("height",77).attr("fill","#fff")
  .attr("stroke","#222").attr("stroke-width",1.3);
const legItems = [
  {kind:"yellow",mx:111,my:21,tx:137,label:legendLabels[0],scale:1.45},
  {kind:"red",mx:415,my:21,tx:431,label:legendLabels[1],scale:1.35},
  {kind:"cyan",mx:724,my:21,tx:742,label:legendLabels[2],scale:1.35},
  {kind:"gray",mx:111,my:57,tx:137,label:legendLabels[3],scale:2.4},
  {kind:"blue",mx:724,my:57,tx:742,label:legendLabels[4],scale:1.9}
];
legItems.forEach(it=>{
  const m = lg.append("g").attr("transform",`translate(${it.mx},${it.my}) scale(${it.scale})`);
  styles[it.kind](m);
  m.selectAll("*").attr("vector-effect","non-scaling-stroke");
  lg.append("text").attr("x",it.tx).attr("y",it.my).attr("dy","0.35em")
    .attr("font-family",legFont).attr("font-size",24).attr("fill","#111").text(it.label);
});
</script></body></html>
